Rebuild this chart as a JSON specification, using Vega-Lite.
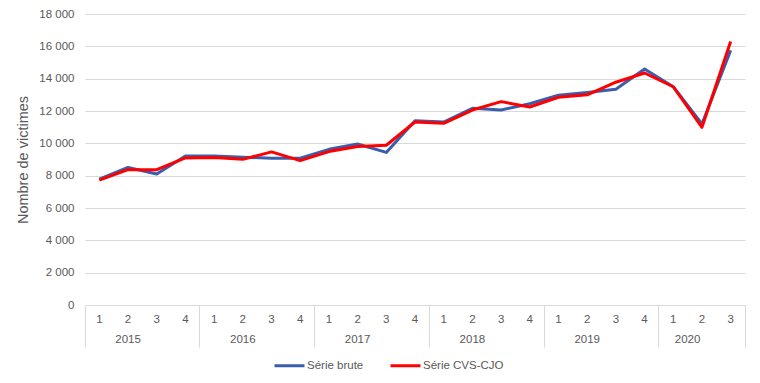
{
  "$schema": "https://vega.github.io/schema/vega-lite/v6.json",
  "width": 660,
  "height": 291,
  "autosize": {"type": "none"},
  "padding": {"left": 85, "top": 14, "right": 15, "bottom": 78},
  "background": "white",
  "config": {
    "view": {"stroke": null},
    "font": "Liberation Sans",
    "axis": {"labelFont": "Liberation Sans", "labelColor": "#595959", "labelFontSize": 11.5, "titleFont": "Liberation Sans"},
    "legend": {"labelFont": "Liberation Sans"}
  },
  "data": {
    "values": [
      {"period": "2015-1", "serie": "Série brute", "value": 7780},
      {"period": "2015-2", "serie": "Série brute", "value": 8510},
      {"period": "2015-3", "serie": "Série brute", "value": 8100},
      {"period": "2015-4", "serie": "Série brute", "value": 9220},
      {"period": "2016-1", "serie": "Série brute", "value": 9220},
      {"period": "2016-2", "serie": "Série brute", "value": 9140},
      {"period": "2016-3", "serie": "Série brute", "value": 9080},
      {"period": "2016-4", "serie": "Série brute", "value": 9080},
      {"period": "2017-1", "serie": "Série brute", "value": 9630},
      {"period": "2017-2", "serie": "Série brute", "value": 9960},
      {"period": "2017-3", "serie": "Série brute", "value": 9440},
      {"period": "2017-4", "serie": "Série brute", "value": 11400},
      {"period": "2018-1", "serie": "Série brute", "value": 11320},
      {"period": "2018-2", "serie": "Série brute", "value": 12170},
      {"period": "2018-3", "serie": "Série brute", "value": 12060},
      {"period": "2018-4", "serie": "Série brute", "value": 12450},
      {"period": "2019-1", "serie": "Série brute", "value": 12980},
      {"period": "2019-2", "serie": "Série brute", "value": 13150},
      {"period": "2019-3", "serie": "Série brute", "value": 13350},
      {"period": "2019-4", "serie": "Série brute", "value": 14600},
      {"period": "2020-1", "serie": "Série brute", "value": 13500},
      {"period": "2020-2", "serie": "Série brute", "value": 11200},
      {"period": "2020-3", "serie": "Série brute", "value": 15750},
      {"period": "2015-1", "serie": "Série CVS-CJO", "value": 7720},
      {"period": "2015-2", "serie": "Série CVS-CJO", "value": 8370},
      {"period": "2015-3", "serie": "Série CVS-CJO", "value": 8370},
      {"period": "2015-4", "serie": "Série CVS-CJO", "value": 9100},
      {"period": "2016-1", "serie": "Série CVS-CJO", "value": 9130},
      {"period": "2016-2", "serie": "Série CVS-CJO", "value": 9010},
      {"period": "2016-3", "serie": "Série CVS-CJO", "value": 9470},
      {"period": "2016-4", "serie": "Série CVS-CJO", "value": 8930},
      {"period": "2017-1", "serie": "Série CVS-CJO", "value": 9490},
      {"period": "2017-2", "serie": "Série CVS-CJO", "value": 9800},
      {"period": "2017-3", "serie": "Série CVS-CJO", "value": 9880},
      {"period": "2017-4", "serie": "Série CVS-CJO", "value": 11320},
      {"period": "2018-1", "serie": "Série CVS-CJO", "value": 11240},
      {"period": "2018-2", "serie": "Série CVS-CJO", "value": 12060},
      {"period": "2018-3", "serie": "Série CVS-CJO", "value": 12580},
      {"period": "2018-4", "serie": "Série CVS-CJO", "value": 12250},
      {"period": "2019-1", "serie": "Série CVS-CJO", "value": 12850},
      {"period": "2019-2", "serie": "Série CVS-CJO", "value": 13000},
      {"period": "2019-3", "serie": "Série CVS-CJO", "value": 13780},
      {"period": "2019-4", "serie": "Série CVS-CJO", "value": 14350},
      {"period": "2020-1", "serie": "Série CVS-CJO", "value": 13500},
      {"period": "2020-2", "serie": "Série CVS-CJO", "value": 10990},
      {"period": "2020-3", "serie": "Série CVS-CJO", "value": 16300}
    ]
  },
  "encoding": {
    "y": {
      "field": "value",
      "type": "quantitative",
      "scale": {"domain": [0, 18000], "nice": false},
      "axis": {
        "values": [0, 2000, 4000, 6000, 8000, 10000, 12000, 14000, 16000, 18000],
        "labelExpr": "replace(format(datum.value, ','), ',', ' ')",
        "domain": false,
        "ticks": false,
        "labelPadding": 11,
        "gridColor": "#d9d9d9",
        "gridWidth": 1,
        "title": "Nombre de victimes",
        "titleFontSize": 14.5,
        "titleFontWeight": "normal",
        "titleColor": "#595959",
        "titlePadding": 8
      }
    }
  },
  "layer": [
    {
      "mark": {"type": "line", "strokeWidth": 3, "strokeJoin": "round"},
      "encoding": {
        "x": {
          "field": "period",
          "type": "ordinal",
          "scale": {"type": "band", "paddingInner": 0, "paddingOuter": 0},
          "axis": {
            "orient": "bottom",
            "title": null,
            "labelExpr": "split(datum.value, '-')[1]",
            "labelAngle": 0,
            "ticks": false,
            "tickSize": 0,
            "domain": true,
            "domainColor": "#d9d9d9",
            "domainWidth": 1,
            "labelPadding": 8,
            "grid": false
          }
        },
        "color": {
          "field": "serie",
          "type": "nominal",
          "scale": {"domain": ["Série brute", "Série CVS-CJO"], "range": ["#3A5DAE", "#FF0000"]},
          "legend": {
            "title": null,
            "orient": "none",
            "direction": "horizontal",
            "legendX": 188,
            "legendY": 335,
            "symbolType": "stroke",
            "symbolSize": 900,
            "symbolStrokeWidth": 3,
            "labelFontSize": 11.5,
            "labelColor": "#595959",
            "labelOffset": 1,
            "columnPadding": 20
          }
        }
      }
    },
    {
      "mark": {"type": "point", "opacity": 0},
      "encoding": {
        "x": {
          "field": "period",
          "type": "ordinal",
          "axis": {
            "orient": "bottom",
            "title": null,
            "labels": false,
            "domain": false,
            "grid": false,
            "bandPosition": 1,
            "tickSize": 42,
            "tickWidth": 1,
            "tickColor": {"condition": {"test": "split(datum.value, '-')[1] == '4' || datum.value == '2020-3'", "value": "#d9d9d9"}, "value": "rgba(0,0,0,0)"}
          }
        }
      }
    },
    {
      "mark": {"type": "point", "opacity": 0},
      "encoding": {
        "x": {
          "field": "period",
          "type": "ordinal",
          "axis": {
            "orient": "bottom",
            "title": null,
            "labels": false,
            "domain": false,
            "grid": false,
            "bandPosition": 0,
            "tickSize": 42,
            "tickWidth": 1,
            "tickColor": {"condition": {"test": "datum.value == '2015-1'", "value": "#d9d9d9"}, "value": "rgba(0,0,0,0)"}
          }
        }
      }
    },
    {
      "mark": {"type": "point", "opacity": 0},
      "encoding": {
        "x": {
          "field": "period",
          "type": "ordinal",
          "axis": {
            "orient": "bottom",
            "title": null,
            "domain": false,
            "grid": false,
            "ticks": false,
            "tickSize": 0,
            "bandPosition": 1,
            "labelAngle": 0,
            "labelOverlap": false,
            "labelPadding": 28,
            "labelExpr": "split(datum.value, '-')[1] == '2' ? split(datum.value, '-')[0] : ''",
            "labelOffset": {"condition": {"test": "datum.value == '2020-2'", "value": -14.35}, "value": 0}
          }
        }
      }
    }
  ],
  "resolve": {"axis": {"x": "independent"}}
}
